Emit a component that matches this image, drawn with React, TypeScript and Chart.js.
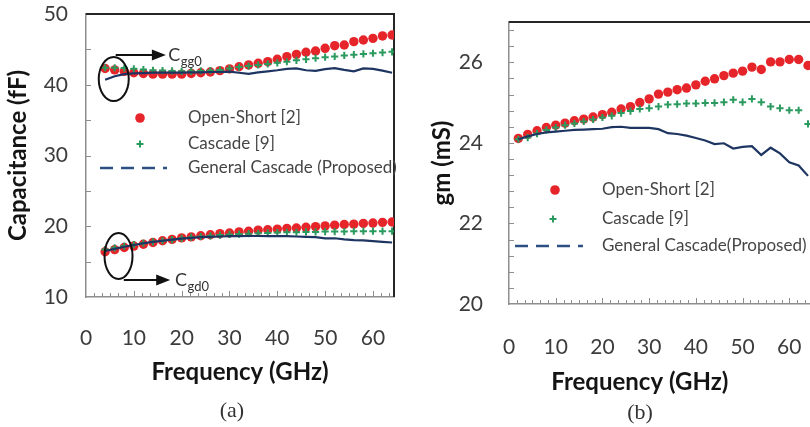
import React, { useEffect, useRef } from 'react';
import { Chart, registerables } from 'chart.js';

Chart.register(...registerables);

// ---------- Panel (a): capacitance vs frequency ----------
const freqA = [4, 6, 8, 10, 12, 14, 16, 18, 20, 22, 24, 26, 28, 30, 32, 34, 36, 38, 40, 42, 44, 46, 48, 50, 52, 54, 56, 58, 60, 62, 64];
const cggOpenShort = [42.3, 42.1, 41.9, 41.7, 41.6, 41.5, 41.5, 41.5, 41.5, 41.6, 41.7, 41.8, 42.0, 42.25, 42.55, 42.8, 43.03, 43.26, 43.6, 43.97, 44.3, 44.59, 44.77, 45.15, 45.52, 45.62, 46.09, 46.33, 46.56, 46.9, 47.03];
const cggCascade = [42.4, 42.4, 42.35, 42.25, 42.15, 42.05, 42.0, 41.95, 41.9, 41.9, 41.95, 42.0, 42.1, 42.3, 42.5, 42.65, 42.8, 42.95, 43.1, 43.25, 43.45, 43.6, 43.75, 43.9, 44.0, 44.15, 44.25, 44.35, 44.45, 44.55, 44.65];
const cggGeneral = [40.7, 41.2, 41.5, 41.6, 41.65, 41.7, 41.7, 41.7, 41.7, 41.75, 41.75, 41.8, 41.8, 41.85, 41.7, 41.55, 41.75, 41.9, 42.05, 42.25, 42.3, 42.05, 41.95, 42.2, 42.35, 42.1, 41.9, 42.3, 42.25, 42.0, 41.7];
const cgdOpenShort = [16.4, 16.7, 17.0, 17.2, 17.45, 17.7, 17.95, 18.15, 18.35, 18.5, 18.65, 18.8, 18.95, 19.05, 19.2, 19.3, 19.45, 19.5, 19.6, 19.7, 19.75, 19.85, 19.95, 20.05, 20.15, 20.25, 20.3, 20.4, 20.45, 20.55, 20.6];
const cgdCascade = [16.7, 16.95, 17.2, 17.4, 17.6, 17.8, 17.95, 18.1, 18.3, 18.45, 18.55, 18.65, 18.75, 18.85, 18.9, 18.95, 19.0, 19.05, 19.1, 19.15, 19.15, 19.2, 19.2, 19.25, 19.25, 19.25, 19.3, 19.3, 19.3, 19.3, 19.3];
const cgdGeneral = [16.5, 16.8, 17.1, 17.35, 17.6, 17.8, 17.95, 18.1, 18.25, 18.35, 18.45, 18.5, 18.55, 18.6, 18.6, 18.62, 18.62, 18.6, 18.6, 18.6, 18.55, 18.5, 18.45, 18.3, 18.3, 18.15, 18.05, 18.0, 17.9, 17.8, 17.7];
const xTicksA = [0, 10, 20, 30, 40, 50, 60];
const yTicksA = [10, 20, 30, 40, 50];

// ---------- Panel (b): gm vs frequency ----------
const freqB = [2, 4, 6, 8, 10, 12, 14, 16, 18, 20, 22, 24, 26, 28, 30, 32, 34, 36, 38, 40, 42, 44, 46, 48, 50, 52, 54, 56, 58, 60, 62, 64];
const gmOpenShort = [24.11, 24.21, 24.3, 24.38, 24.44, 24.49, 24.55, 24.59, 24.64, 24.7, 24.76, 24.84, 24.9, 25.0, 25.09, 25.21, 25.26, 25.32, 25.36, 25.44, 25.53, 25.59, 25.67, 25.73, 25.78, 25.88, 25.82, 26.01, 26.01, 26.07, 26.07, 25.92];
const gmCascade = [24.09, 24.13, 24.23, 24.32, 24.38, 24.44, 24.48, 24.53, 24.58, 24.63, 24.67, 24.74, 24.79, 24.84, 24.86, 24.9, 24.95, 24.96, 24.98, 24.98, 24.99, 24.99, 25.01, 25.07, 25.01, 25.09, 25.01, 24.9, 24.86, 24.81, 24.81, 24.47];
const gmGeneral = [24.09, 24.16, 24.22, 24.26, 24.28, 24.3, 24.32, 24.33, 24.34, 24.35, 24.39, 24.4, 24.37, 24.37, 24.37, 24.34, 24.24, 24.22, 24.18, 24.12, 24.06, 23.97, 23.99, 23.86, 23.9, 23.92, 23.7, 23.88, 23.74, 23.52, 23.44, 23.18];
const xTicksB = [0, 10, 20, 30, 40, 50, 60];
const yTicksB = [20, 22, 24, 26];

const legendLabelsA = ['Open-Short [2]', 'Cascade [9]', 'General Cascade (Proposed)'];
const legendLabelsB = ['Open-Short [2]', 'Cascade [9]', 'General Cascade(Proposed)'];
const xTitle = 'Frequency (GHz)';

const FONT = 'Lato, "Open Sans", "DejaVu Sans", sans-serif';
const RED = '#e6252b';
const GREEN = '#2b9a5f';
const BLUE = '#1e3562';
const LEGEND_BLUE = '#2d4f82';
const AXIS_GRAY = '#8e8e8e';
const BORDER = '#262626';
const TICK_COLOR = '#3c3c3c';
const TEXT_COLOR = '#454545';
const TITLE_COLOR = '#141414';
const TITLE_SIZE = 24;

function pts(xs: number[], ys: number[]) {
  return xs.map((x, i) => ({ x, y: ys[i] }));
}

function openShortDs(data: any[]) {
  return {
    label: 'Open-Short [2]', data, showLine: false, pointStyle: 'circle', pointRadius: 4.7,
    pointBackgroundColor: RED, pointBorderColor: RED, pointBorderWidth: 0, borderColor: RED, order: 3,
  };
}
function cascadeDs(data: any[]) {
  return {
    label: 'Cascade [9]', data, showLine: false, pointStyle: 'cross', pointRadius: 3.6,
    pointBorderColor: GREEN, pointBorderWidth: 2, borderColor: GREEN, order: 2,
  };
}
function generalDs(data: any[]) {
  return {
    label: 'General Cascade', data, showLine: true, borderColor: BLUE, borderWidth: 2.2,
    pointRadius: 0, tension: 0, order: 1,
  };
}

function drawFrame(chart: any, xStep: number, xMajorEvery: number, yStep: number, drawRight: boolean) {
  const { ctx, chartArea: a, scales } = chart;
  const x = scales.x, y = scales.y;
  ctx.save();
  ctx.strokeStyle = AXIS_GRAY;
  ctx.lineWidth = 1;
  ctx.beginPath();
  for (let i = 1; i < 200; i++) {
    const v = x.min + i * xStep;
    if (v >= x.max) break;
    const px = Math.round(x.getPixelForValue(v)) + 0.5;
    const len = i % xMajorEvery === 0 ? 6 : 4;
    ctx.moveTo(px, a.bottom);
    ctx.lineTo(px, a.bottom - len);
  }
  for (let i = 1; i < 200; i++) {
    const v = y.min + i * yStep;
    if (v >= y.max - 1e-9) break;
    const py = Math.round(y.getPixelForValue(v)) + 0.5;
    ctx.moveTo(a.left, py);
    ctx.lineTo(a.left + 5, py);
  }
  ctx.stroke();
  ctx.strokeStyle = BORDER;
  ctx.lineWidth = 2;
  ctx.beginPath();
  ctx.moveTo(a.left, a.top);
  ctx.lineTo(a.right, a.top);
  if (drawRight) ctx.lineTo(a.right, a.bottom);
  ctx.stroke();
  ctx.restore();
}

function drawLegend(chart: any, cfg: any) {
  const { ctx, chartArea: a } = chart;
  ctx.save();
  ctx.fillStyle = RED;
  ctx.beginPath();
  ctx.arc(a.left + cfg.dotX, a.top + cfg.dotY, 4.8, 0, Math.PI * 2);
  ctx.fill();
  ctx.strokeStyle = GREEN;
  ctx.lineWidth = 2;
  ctx.beginPath();
  const cx = a.left + cfg.crossX, cy = a.top + cfg.crossY;
  ctx.moveTo(cx - 3.5, cy); ctx.lineTo(cx + 3.5, cy);
  ctx.moveTo(cx, cy - 3.5); ctx.lineTo(cx, cy + 3.5);
  ctx.stroke();
  ctx.strokeStyle = LEGEND_BLUE;
  ctx.lineWidth = 2.6;
  ctx.setLineDash([13, 8]);
  ctx.beginPath();
  ctx.moveTo(a.left + cfg.dashX0, a.top + cfg.dashY);
  ctx.lineTo(a.left + cfg.dashX1, a.top + cfg.dashY);
  ctx.stroke();
  ctx.setLineDash([]);
  ctx.fillStyle = TEXT_COLOR;
  ctx.font = `${cfg.fontSize}px ${FONT}`;
  ctx.textAlign = 'left';
  ctx.textBaseline = 'middle';
  ctx.fillText(cfg.labels[0], a.left + cfg.textX, a.top + cfg.dotY);
  ctx.fillText(cfg.labels[1], a.left + cfg.textX, a.top + cfg.crossY);
  ctx.fillText(cfg.labels[2], a.left + cfg.textX, a.top + cfg.dashY);
  ctx.restore();
}

function drawCallout(chart: any, c: any) {
  const { ctx, scales } = chart;
  const x = scales.x, y = scales.y;
  const ex = x.getPixelForValue(c.ex), ey = y.getPixelForValue(c.ey);
  const ax0 = x.getPixelForValue(c.ax0), ax1 = x.getPixelForValue(c.ax1), ay = y.getPixelForValue(c.ay);
  const lx = x.getPixelForValue(c.lx);
  ctx.save();
  ctx.strokeStyle = '#111';
  ctx.fillStyle = '#111';
  ctx.lineWidth = 2;
  ctx.beginPath();
  ctx.ellipse(ex, ey, c.rx, c.ry, 0, 0, Math.PI * 2);
  ctx.stroke();
  ctx.beginPath();
  ctx.moveTo(ax0, ay);
  ctx.lineTo(ax1 - 10, ay);
  ctx.stroke();
  ctx.beginPath();
  ctx.moveTo(ax1, ay);
  ctx.lineTo(ax1 - 14, ay - 5.5);
  ctx.lineTo(ax1 - 14, ay + 5.5);
  ctx.closePath();
  ctx.fill();
  ctx.fillStyle = '#333';
  ctx.textAlign = 'left';
  ctx.textBaseline = 'alphabetic';
  ctx.font = `18px ${FONT}`;
  ctx.fillText('C', lx, ay + 6);
  const w = ctx.measureText('C').width;
  ctx.font = `13px ${FONT}`;
  ctx.fillText(c.sub, lx + w + 0.5, ay + 11);
  ctx.restore();
}

function makeOptions(p: any) {
  const tickFont = { family: FONT, size: 21 };
  const titleFont = { family: FONT, size: TITLE_SIZE, weight: 'bold' as const };
  return {
    responsive: false,
    animation: false,
    devicePixelRatio: 1,
    layout: { padding: { top: p.padTop, right: p.padRight, left: 0, bottom: 0 } },
    plugins: { legend: { display: false }, tooltip: { enabled: false } },
    scales: {
      x: {
        type: 'linear', min: 0, max: p.xMax,
        afterBuildTicks: (s: any) => { s.ticks = p.xTicks.map((v: number) => ({ value: v })); },
        afterFit: (s: any) => { s.height = p.xAxisHeight; s.paddingLeft = 0; s.paddingRight = 0; },
        grid: { display: false, drawTicks: false },
        border: { display: true, color: AXIS_GRAY, width: 1.5 },
        ticks: { padding: p.xTickPad, font: tickFont, color: TICK_COLOR, autoSkip: false, maxRotation: 0 },
        title: { display: p.xTitleBuiltIn, text: xTitle, font: titleFont, color: TITLE_COLOR, padding: { top: 0, bottom: p.xTitlePad } },
      },
      y: {
        type: 'linear', min: p.yMin, max: p.yMax,
        afterBuildTicks: (s: any) => { s.ticks = p.yTicks.map((v: number) => ({ value: v })); },
        afterFit: (s: any) => { s.width = p.yAxisWidth; s.paddingTop = 0; s.paddingBottom = 0; },
        grid: { display: false, drawTicks: false },
        border: { display: true, color: AXIS_GRAY, width: 1.5 },
        ticks: { padding: p.yTickPad, font: tickFont, color: TICK_COLOR, autoSkip: false },
        title: { display: true, text: p.yTitle, font: titleFont, color: TITLE_COLOR, padding: { top: p.yTitlePad, bottom: 0 } },
      },
    },
  };
}

function PanelA() {
  const ref = useRef<HTMLCanvasElement>(null);
  useEffect(() => {
    const decor = {
      id: 'decorA',
      beforeDatasetsDraw(chart: any) { drawFrame(chart, 5 / 3, 6, 5, true); },
      afterDraw(chart: any) {
        drawLegend(chart, {
          dotX: 54, dotY: 104, crossX: 54, crossY: 130, dashX0: 14, dashX1: 81, dashY: 154,
          textX: 102, fontSize: 17, labels: legendLabelsA,
        });
        drawCallout(chart, { ex: 5.8, ey: 40.8, rx: 15, ry: 22, ax0: 6.2, ax1: 16.7, ay: 44.2, lx: 17.2, sub: 'gg0' });
        drawCallout(chart, { ex: 6.8, ey: 15.8, rx: 14, ry: 23, ax0: 7.9, ax1: 17.6, ay: 12.4, lx: 18.6, sub: 'gd0' });
      },
    };
    const chart = new Chart(ref.current as HTMLCanvasElement, {
      type: 'scatter',
      data: {
        datasets: [
          generalDs(pts(freqA, cggGeneral)),
          cascadeDs(pts(freqA, cggCascade)),
          openShortDs(pts(freqA, cggOpenShort)),
          generalDs(pts(freqA, cgdGeneral)),
          cascadeDs(pts(freqA, cgdCascade)),
          openShortDs(pts(freqA, cgdOpenShort)),
        ] as any,
      },
      options: makeOptions({
        padTop: 14, padRight: 2, xMax: 64.4, xTicks: xTicksA, xAxisHeight: 130, xTickPad: 29, xTitlePad: 40, xTitleBuiltIn: true,
        yMin: 10, yMax: 50, yTicks: yTicksA, yAxisWidth: 86, yTickPad: 18, yTitle: 'Capacitance (fF)', yTitlePad: 4,
      }) as any,
      plugins: [decor],
    });
    return () => chart.destroy();
  }, []);
  return <canvas ref={ref} width={400} height={427} style={{ position: 'absolute', left: 0, top: 0, width: 400, height: 427 }} />;
}

function PanelB() {
  const ref = useRef<HTMLCanvasElement>(null);
  useEffect(() => {
    const decor = {
      id: 'decorB',
      beforeDatasetsDraw(chart: any) { drawFrame(chart, 5 / 3, 6, 0.4, false); },
      afterDraw(chart: any) {
        drawLegend(chart, {
          dotX: 46, dotY: 168, crossX: 44, crossY: 197, dashX0: 6, dashX1: 74, dashY: 224,
          textX: 93, fontSize: 17, labels: legendLabelsB,
        });
        // x-axis title: in the source it sits left of the plot centre
        const { ctx, chartArea: a, scales } = chart;
        ctx.save();
        ctx.font = `bold ${TITLE_SIZE}px ${FONT}`;
        ctx.fillStyle = TITLE_COLOR;
        ctx.textAlign = 'center';
        ctx.textBaseline = 'middle';
        ctx.fillText(xTitle, scales.x.getPixelForValue(28), a.bottom + 78);
        ctx.restore();
      },
    };
    const chart = new Chart(ref.current as HTMLCanvasElement, {
      type: 'scatter',
      data: {
        datasets: [
          generalDs(pts(freqB, gmGeneral)),
          cascadeDs(pts(freqB, gmCascade)),
          openShortDs(pts(freqB, gmOpenShort)),
        ] as any,
      },
      options: makeOptions({
        padTop: 22, padRight: 18, xMax: 67, xTicks: xTicksB, xAxisHeight: 123, xTickPad: 31, xTitlePad: 32, xTitleBuiltIn: false,
        yMin: 20, yMax: 27, yTicks: yTicksB, yAxisWidth: 109, yTickPad: 26, yTitle: 'gm (mS)', yTitlePad: 28,
      }) as any,
      plugins: [decor],
    });
    return () => chart.destroy();
  }, []);
  return <canvas ref={ref} width={440} height={427} style={{ position: 'absolute', left: 400, top: 0, width: 440, height: 427 }} />;
}

const captionStyle: React.CSSProperties = {
  position: 'absolute', width: 60, textAlign: 'center', fontFamily: '"Liberation Serif", "Times New Roman", serif',
  fontSize: 22, lineHeight: '26px', color: '#333',
};

export default function App() {
  return (
    <div style={{ position: 'absolute', left: 0, top: 0, width: 810, height: 427, overflow: 'hidden', background: '#fff' }}>
      <PanelA />
      <PanelB />
      <div style={{ ...captionStyle, left: 202, top: 397 }}>(a)</div>
      <div style={{ ...captionStyle, left: 610, top: 399 }}>(b)</div>
    </div>
  );
}
